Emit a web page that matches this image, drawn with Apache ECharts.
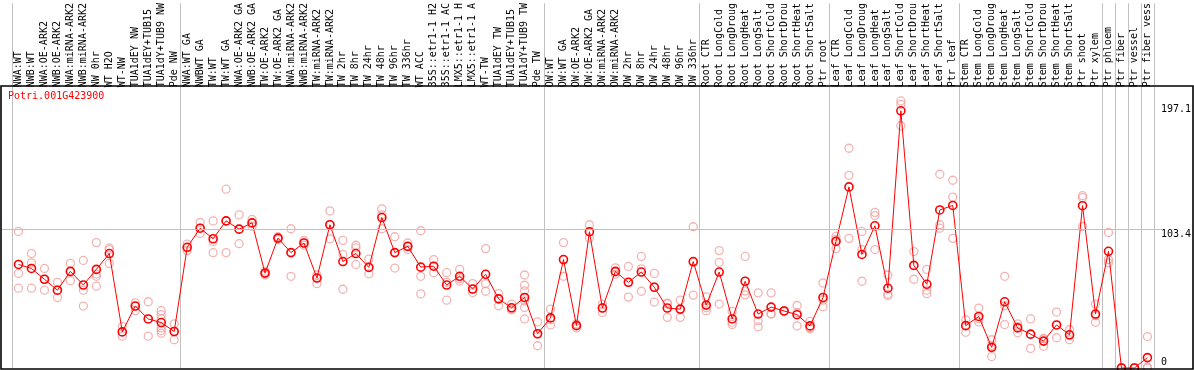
<!DOCTYPE html>
<html>
<head>
<meta charset="utf-8">
<script src="https://cdn.jsdelivr.net/npm/echarts@6/dist/echarts.min.js"></script>
<style>
  html, body { margin: 0; padding: 0; background: #ffffff; }
  #chart { width: 1194px; height: 370px; }
</style>
</head>
<body>
<div id="chart"></div>
<script>
const geneTitle = 'Potri.001G423900';

const categories = [
  'NWA:WT', 'NWB:WT', 'NWA:OE-ARK2', 'NWB:OE-ARK2', 'NWA:miRNA-ARK2', 'NWB:miRNA-ARK2',
  'NW 0hr', 'WT H2O', 'WT-NW', 'TUA1dEY NW', 'TUA1dEY+TUB15', 'TUA1dY+TUB9 NW', 'Pde NW',
  'NWA:WT GA', 'NWBWT GA', 'TW:WT', 'TW:WT GA', 'NWA:OE-ARK2 GA', 'NWB:OE-ARK2 GA',
  'TW:OE-ARK2', 'TW:OE-ARK2 GA', 'NWA:miRNA-ARK2', 'NWB:miRNA-ARK2', 'TW:miRNA-ARK2',
  'TW:miRNA-ARK2', 'TW 2hr', 'TW 8hr', 'TW 24hr', 'TW 48hr', 'TW 96hr', 'TW 336hr',
  'WT ACC', '35S::etr1-1 H2', '35S::etr1-1 AC', 'LMX5::etr1-1 H', 'LMX5::etr1-1 A',
  'WT-TW', 'TUA1dEY TW', 'TUA1dEY+TUB15', 'TUA1dY+TUB9 TW', 'Pde TW',
  'OW:WT', 'OW:WT GA', 'OW:OE-ARK2', 'OW:OE-ARK2 GA', 'OW:miRNA-ARK2', 'OW:miRNA-ARK2',
  'OW 2hr', 'OW 8hr', 'OW 24hr', 'OW 48hr', 'OW 96hr', 'OW 336hr',
  'Root CTR', 'Root LongCold', 'Root LongDroug', 'Root LongHeat', 'Root LongSalt',
  'Root ShortCold', 'Root ShortDrou', 'Root ShortHeat', 'Root ShortSalt', 'Ptr root',
  'Leaf CTR', 'Leaf LongCold', 'Leaf LongDroug', 'Leaf LongHeat', 'Leaf LongSalt',
  'Leaf ShortCold', 'Leaf ShortDrou', 'Leaf ShortHeat', 'Leaf ShortSalt', 'Ptr leaf',
  'Stem CTR', 'Stem LongCold', 'Stem LongDroug', 'Stem LongHeat', 'Stem LongSalt',
  'Stem ShortCold', 'Stem ShortDrou', 'Stem ShortHeat', 'Stem ShortSalt', 'Ptr shoot',
  'Ptr xylem', 'Ptr phloem', 'Ptr fiber', 'Ptr vessel', 'Ptr fiber vess'
];

// indices of the first category of each sample group (separator lines)
const groupStarts = [0, 13, 41, 53, 63, 73, 84, 85, 86, 87];

// mean expression per category
const means = [
  77.7, 74.7, 66.6, 58.4, 72.5, 62.3, 74.0, 85.9, 27.1, 46.5, 36.8, 34.1, 27.4,
  90.6, 104.9, 97.0, 110.4, 104.2, 108.9, 71.2, 97.5, 86.6, 93.8, 67.5, 107.5,
  79.9, 85.9, 75.5, 112.9, 86.6, 91.3, 75.7, 76.4, 62.3, 68.8, 59.3, 70.3, 51.9,
  45.2, 52.9, 25.7,
  37.6, 81.4, 31.8, 102.3, 45.0, 72.5, 64.3, 72.0, 60.6, 45.0, 44.2, 79.9,
  47.2, 72.0, 36.8, 65.1, 40.5, 45.7, 42.8, 40.0, 31.6, 52.9,
  95.0, 135.9, 85.2, 106.7, 59.9, 193.0, 77.0, 62.8, 118.6, 122.0,
  31.8, 38.7, 15.5, 49.7, 30.1, 25.4, 20.2, 32.3, 24.9, 121.8, 40.5,
  87.6, 0, 0, 7.8
];

// individual replicate values per category
const replicates = [
  [102.5, 71.0, 59.9], [85.9, 78.9, 59.9], [74.7, 66.6, 58.4], [64.3, 58.4, 52.9],
  [78.5, 72.5, 65.5], [80.7, 58.4, 46.5], [94.1, 70.5, 68.8, 61.4], [90.1, 88.9, 78.5],
  [31.1, 27.1, 23.9], [48.9, 46.5, 43.0], [49.7, 36.8, 23.9],
  [43.0, 40.0, 36.8, 30.1, 28.1, 26.1], [33.1, 27.4, 21.2],
  [93.0, 90.1, 88.1], [109.2, 104.9, 101.0], [110.4, 95.0, 86.6], [134.2, 110.4, 86.6],
  [114.9, 104.2, 93.3], [111.6, 108.9, 106.4], [72.7, 71.2, 69.8], [98.5, 97.5, 96.5],
  [104.5, 86.6, 68.8], [95.8, 93.8, 92.1], [69.8, 67.5, 63.3], [117.9, 107.5, 97.0],
  [95.8, 85.2, 59.1], [92.1, 90.1, 77.7], [81.7, 75.5, 70.7], [119.4, 114.9, 104.5],
  [98.5, 86.6, 75.0], [93.8, 91.3, 88.9], [103.0, 68.8, 55.6], [81.4, 76.4, 71.5],
  [71.5, 64.3, 50.9], [74.0, 67.0, 65.3], [63.3, 59.3, 56.6], [89.6, 63.3, 57.6],
  [55.8, 51.9, 46.7], [48.0, 44.2, 43.7], [69.8, 62.1, 57.9, 50.4, 45.4, 36.8],
  [34.6, 25.7, 16.7],
  [44.2, 36.3, 32.3], [94.1, 81.4, 68.8], [33.1, 32.3, 30.1], [107.5, 102.3, 97.5],
  [48.0, 45.2, 41.7], [75.2, 72.0, 70.3], [76.2, 64.3, 53.2], [83.7, 74.4, 57.6],
  [71.0, 60.8, 49.5], [48.7, 48.2, 38.0], [50.9, 43.7, 38.0], [106.0, 79.2, 54.7],
  [53.4, 45.2, 43.0], [88.1, 79.2, 48.0], [42.5, 34.3, 32.6], [83.7, 57.9, 54.9],
  [56.4, 35.5, 30.9], [56.4, 40.8, 40.5], [43.0, 42.8, 42.2], [46.9, 41.5, 31.6],
  [35.0, 30.3, 29.4], [63.8, 50.9, 46.0],
  [98.8, 96.5, 89.6], [164.9, 144.6, 97.3], [102.5, 88.9, 65.1], [116.8, 114.4, 88.9],
  [69.8, 55.4, 54.4], [200.4, 197.9, 181.8], [87.4, 77.0, 66.6], [74.0, 58.4, 55.8],
  [145.4, 107.5, 104.9], [140.9, 128.3, 97.3],
  [36.1, 31.8, 26.8], [45.0, 37.0, 34.6], [21.2, 17.0, 8.6], [68.8, 46.7, 32.6],
  [33.1, 31.1, 26.4], [36.8, 25.1, 14.7], [22.2, 21.9, 16.4], [42.0, 32.3, 22.7],
  [28.9, 24.4, 21.2], [129.3, 127.8, 106.2], [48.0, 39.3, 34.3],
  [101.7, 81.4, 78.9], [0, 0, 0], [0, 0, 0], [23.6, 0.8, 0]
];

// value-axis labels and reference line
const yTickValues = [0, 103.4, 197.1];
const yGridValue = 103.4;
const yMax = 273.7;

const mono = 'DejaVu Sans Mono';
const replicatePoints = [];
replicates.forEach(function (vals, i) {
  vals.forEach(function (v) { replicatePoints.push([i, v]); });
});

const chart = echarts.init(document.getElementById('chart'), null, { renderer: 'canvas' });
chart.setOption({
  animation: false,
  backgroundColor: '#ffffff',
  title: {
    text: geneTitle,
    left: 8,
    top: 91,
    padding: 0,
    textStyle: { color: '#ff0000', fontFamily: mono, fontSize: 10, fontWeight: 'normal' }
  },
  grid: [
    { left: 12, right: 38, top: 0, bottom: 2, containLabel: false },
    { left: 1, right: 31, top: 0, bottom: 2, containLabel: false }
  ],
  xAxis: [
    {
      type: 'category',
      gridIndex: 0,
      data: categories,
      position: 'top',
      offset: -86,
      boundaryGap: true,
      axisLine: { show: false },
      axisTick: { show: false },
      axisLabel: {
        interval: 0,
        rotate: 90,
        margin: 2,
        color: '#000000',
        fontFamily: mono,
        fontSize: 10
      },
      splitLine: {
        show: true,
        interval: function (index) { return groupStarts.indexOf(index) >= 0; },
        lineStyle: { color: '#c0c0c0', width: 1 }
      }
    },
    { type: 'value', gridIndex: 1, min: 0, max: 1, show: false }
  ],
  yAxis: [
    {
      type: 'value',
      gridIndex: 0,
      min: 0,
      max: yMax,
      position: 'right',
      axisLine: { show: false },
      axisTick: { show: false },
      splitLine: { show: false },
      axisLabel: {
        customValues: yTickValues,
        margin: 7,
        color: '#000000',
        fontFamily: mono,
        fontSize: 10,
        formatter: function (v) {
          return v === 0 ? '{lo|' + v + '}' : '{hi|' + v + '}';
        },
        rich: {
          hi: { padding: [8, 0, 0, 0], fontFamily: mono, fontSize: 10, color: '#000000' },
          lo: { padding: [0, 0, 12, 0], fontFamily: mono, fontSize: 10, color: '#000000' }
        }
      }
    },
    { type: 'value', gridIndex: 1, min: 0, max: yMax, show: false }
  ],
  series: [
    {
      type: 'line',
      xAxisIndex: 1,
      yAxisIndex: 1,
      data: [],
      silent: true,
      markLine: {
        silent: true,
        symbol: ['none', 'none'],
        label: { show: false },
        lineStyle: { color: '#c0c0c0', width: 1, type: 'solid' },
        data: [{ yAxis: yGridValue }]
      }
    },
    {
      type: 'scatter',
      xAxisIndex: 0,
      yAxisIndex: 0,
      data: replicatePoints,
      symbol: 'circle',
      symbolSize: 8,
      z: 2,
      itemStyle: { color: 'rgba(0,0,0,0)', borderColor: '#f0a0a0', borderWidth: 1.3 },
      silent: true
    },
    {
      type: 'line',
      xAxisIndex: 0,
      yAxisIndex: 0,
      data: means,
      symbol: 'circle',
      symbolSize: 8,
      showSymbol: true,
      z: 3,
      clip: false,
      lineStyle: { color: '#ff0000', width: 1 },
      itemStyle: { color: 'rgba(0,0,0,0)', borderColor: '#ff0000', borderWidth: 1.6 },
      silent: true
    }
  ],
  graphic: [
    {
      type: 'rect',
      silent: true,
      z: 100,
      shape: { x: 1, y: 86, width: 1192, height: 283 },
      style: { fill: null, stroke: '#000000', lineWidth: 1.6 }
    }
  ]
});
</script>
</body>
</html>
